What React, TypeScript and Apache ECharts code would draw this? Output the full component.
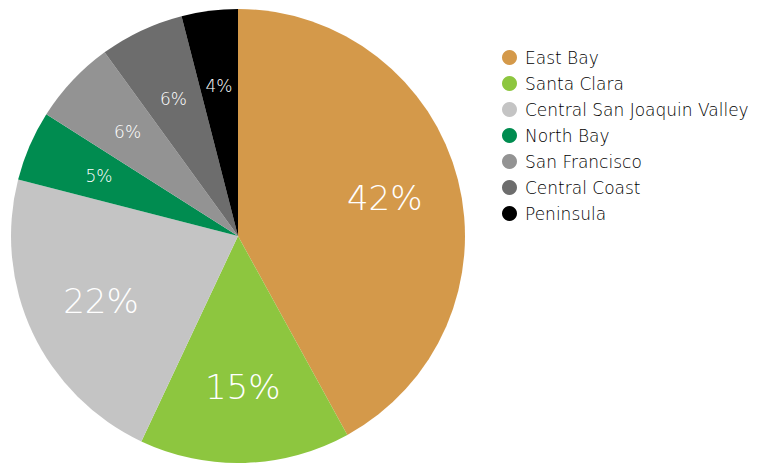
import React, { useEffect, useRef } from "react";
import * as echarts from "echarts";

const categories = ["East Bay", "Santa Clara", "Central San Joaquin Valley", "North Bay", "San Francisco", "Central Coast", "Peninsula"];
const values = [42, 15, 22, 5, 6, 6, 4];
const colors = ["#D4994A", "#8DC63F", "#C4C4C4", "#008C50", "#939393", "#6D6D6D", "#000000"];
const bigLabel = [true, true, true, false, false, false, false];

const FONT = "DejaVu Sans";

export default function App() {
  const ref = useRef<HTMLDivElement>(null);
  useEffect(() => {
    const chart = echarts.init(ref.current!, null, { renderer: "svg" });
    const data = categories.map((name, i) => ({
      name,
      value: values[i],
      itemStyle: { color: colors[i] },
    }));
    const labelData = categories.map((name, i) => ({
      name,
      value: values[i],
      itemStyle: { color: "rgba(0,0,0,0)" },
      label: { fontSize: bigLabel[i] ? 34 : 17 },
    }));
    chart.setOption({
      animation: false,
      color: colors,
      legend: {
        orient: "vertical",
        left: 497,
        top: 44,
        icon: "circle",
        itemWidth: 15,
        itemHeight: 15,
        itemGap: 9,
        textStyle: { fontFamily: FONT, fontWeight: 200, fontSize: 17, color: "#000", padding: [0, 0, 0, 3] },
        data: categories,
      },
      series: [
        {
          type: "pie",
          center: [238, 236],
          radius: 227,
          startAngle: 90,
          clockwise: true,
          label: { show: false },
          labelLine: { show: false },
          itemStyle: { borderWidth: 0 },
          data,
        },
        {
          type: "pie",
          center: [238, 236],
          radius: [70, 227],
          startAngle: 90,
          clockwise: true,
          silent: true,
          legendHoverLink: false,
          label: {
            show: true,
            position: "inside",
            formatter: "{c}%",
            color: "#fff",
            fontFamily: FONT,
            fontWeight: 200,
          },
          labelLine: { show: false },
          data: labelData,
        },
      ],
    });
    return () => chart.dispose();
  }, []);
  return <div ref={ref} style={{ position: "absolute", left: 0, top: 0, width: 768, height: 463 }} />;
}
